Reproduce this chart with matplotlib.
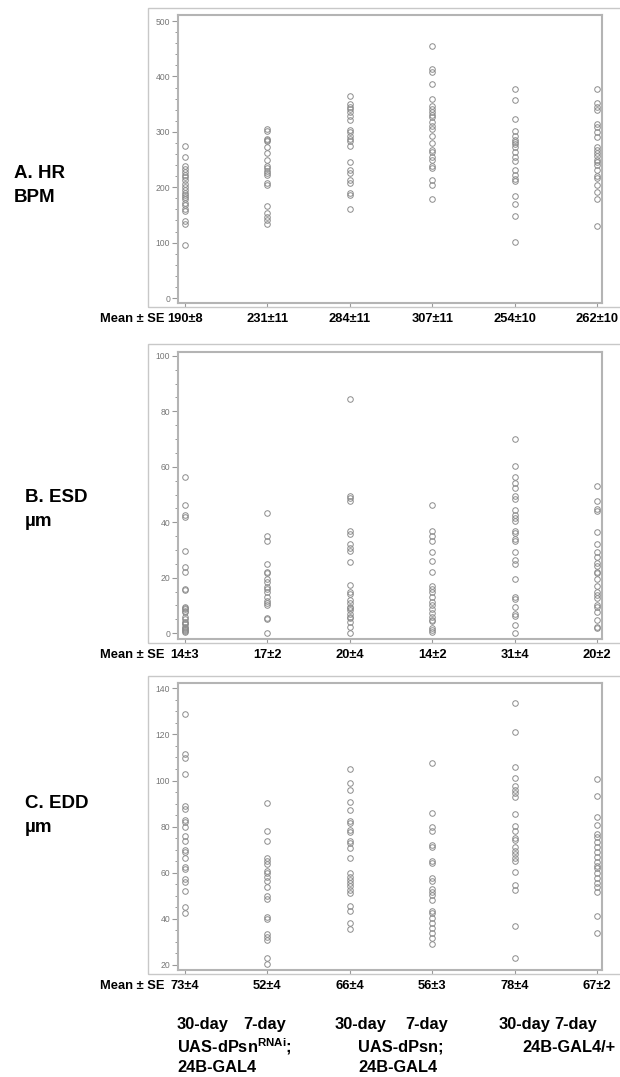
import numpy as np
import matplotlib.pyplot as plt
from matplotlib.patches import Rectangle
from matplotlib.ticker import MultipleLocator

plt.rcParams['font.family'] = ['Liberation Sans', 'DejaVu Sans']
plt.rcParams['mathtext.fontset'] = 'custom'
plt.rcParams['mathtext.rm'] = 'Liberation Sans'
plt.rcParams['mathtext.bf'] = 'Liberation Sans:bold'

# =============================================================================
# DATA
# =============================================================================
HR_MEANS = ["190±8", "231±11", "284±11", "307±11", "254±10", "262±10"]
HR = [
    [275, 254, 238, 233, 228, 222, 218, 213, 205, 200, 195, 190, 186, 182,
     178, 172, 168, 160, 157, 139, 134, 96],
    [306, 302, 288, 285, 283, 273, 262, 250, 238, 234, 230, 226, 222, 207,
     204, 166, 154, 146, 140, 133],
    [365, 350, 345, 341, 336, 329, 321, 303, 299, 293, 288, 283, 275, 246,
     232, 226, 213, 208, 189, 186, 160],
    [455, 413, 408, 387, 359, 346, 341, 336, 330, 326, 318, 310, 306, 293,
     280, 268, 264, 255, 249, 238, 235, 213, 204, 178],
    [378, 357, 324, 302, 292, 286, 282, 278, 273, 264, 255, 247, 231, 223,
     214, 211, 184, 170, 148, 101],
    [378, 352, 345, 340, 315, 308, 300, 291, 273, 267, 261, 256, 250, 245,
     240, 231, 220, 216, 204, 192, 178, 130],
]

ESD_MEANS = ["14±3", "17±2", "20±4", "14±2", "31±4", "20±2"]
ESD = [
    [56.5, 46.4, 42.5, 42, 29.8, 23.7, 22.2, 16, 15.4, 9.6, 9.2, 8.7, 8,
     7.5, 6, 5, 4.2, 3.8, 3.2, 2.4, 2, 1.4, 1, 0.8, 0.3],
    [43.5, 34.9, 33.3, 25, 22.2, 21.6, 19.5, 18.3, 16.8, 15.9, 14.7, 13.2,
     11.5, 10.8, 10, 5.6, 5, 0],
    [84.5, 49.5, 48.7, 47.7, 36.7, 35.7, 32.1, 30.7, 29.8, 25.6, 17.4, 15,
     14.2, 12, 11, 9.6, 9, 8.2, 7, 6, 5.5, 4.2, 2.4, 0],
    [46.2, 36.9, 34.9, 33.3, 29.4, 26.1, 21.9, 17.1, 16, 14.8, 13.2, 11.4,
     10, 8.8, 7.2, 5.8, 4.8, 4.5, 1.8, 1, 0.5],
    [70, 60.3, 56.5, 54.3, 52.3, 49.5, 48.4, 44.5, 42.7, 41.5, 40.3, 36.7,
     36.1, 34, 33.1, 29.4, 26.4, 24.9, 19.5, 13.2, 12.4, 9.4, 7, 6.3, 3, 0.2],
    [53.1, 47.8, 44.7, 44.2, 36.4, 32.1, 29.2, 27.4, 25.2, 24.3, 22.2, 21.6,
     19.5, 17.1, 15, 13.8, 12.6, 10.2, 9.3, 7.5, 4.8, 2.4, 1.7],
]

EDD_MEANS = ["73±4", "52±4", "66±4", "56±3", "78±4", "67±2"]
EDD = [
    [128.7, 111.4, 109.9, 102.7, 89.1, 87.7, 82.9, 82.2, 80, 76.1, 73.8,
     69.9, 68.9, 66.3, 62.4, 61.6, 57.2, 56.1, 52.2, 45, 42.7],
    [90.1, 78.1, 73.8, 66.3, 65.1, 63.8, 60.9, 59.8, 58.3, 56.4, 54, 49.9,
     48.5, 41, 40, 33.5, 32.3, 30.8, 23.2, 20.4],
    [105, 99.1, 95.9, 90.8, 87.2, 82.6, 81.4, 78.6, 77.8, 73.8, 72.8, 70.6,
     66.3, 59.8, 58, 56.9, 55.7, 54.3, 52.5, 51.1, 45.6, 43.6, 38.1, 35.6],
    [107.5, 85.8, 79.7, 78.1, 72, 71, 65.3, 64.1, 57.6, 56.4, 52.8, 51.5,
     50.4, 48.2, 43.6, 42.4, 40.2, 38.1, 36, 33.8, 31.6, 29],
    [133.5, 121.2, 106, 101, 97.8, 95.9, 94.5, 92.7, 85.5, 80.4, 78.3, 75.2,
     74.2, 71.3, 69.4, 68, 66.3, 65.1, 60.2, 54.7, 52.5, 36.9, 23.2],
    [100.5, 93.3, 84.3, 80.7, 76.8, 75.7, 73.5, 71.3, 69.2, 67, 64.8, 62.7,
     61.9, 59.8, 57.6, 55.7, 53.7, 51.5, 41.3, 33.8],
]

# =============================================================================
# LAYOUT (pixels of a 620x1077 canvas)
# =============================================================================
W, H = 620, 1077
PANELS = [
    dict(data=HR, means=HR_MEANS, ylim=(-9, 511), major=100, minor=20,
         top=15, bot=303, otop=8, obot=307, lx=14,
         label=("A. HR", "BPM"), ly=(173, 197)),
    dict(data=ESD, means=ESD_MEANS, ylim=(-2.1, 101.4), major=20, minor=5,
         top=352, bot=639, otop=344, obot=643, lx=25,
         label=("B. ESD", "µm"), ly=(497, 521)),
    dict(data=EDD, means=EDD_MEANS, ylim=(17.8, 142.3), major=20, minor=5,
         top=683, bot=970, otop=676, obot=974, lx=25,
         label=("C. EDD", "µm"), ly=(804, 828)),
]
AX_L, AX_R = 178, 602

fig = plt.figure(figsize=(W / 100, H / 100), dpi=100)


def px(x, y):
    return x / W, 1 - y / H


for p in PANELS:
    # light outer frame
    x0, y0 = px(148, p["obot"])
    fig.patches.append(Rectangle((x0, y0), (640 - 148) / W,
                                 (p["obot"] - p["otop"]) / H,
                                 transform=fig.transFigure, fill=False,
                                 ec="#c8c8c8", lw=1.0))

    ax = fig.add_axes([AX_L / W, 1 - p["bot"] / H, (AX_R - AX_L) / W,
                       (p["bot"] - p["top"]) / H])
    for i, vals in enumerate(p["data"]):
        ax.plot(np.full(len(vals), i), vals, "o", mfc="none", mec="#8c8c8c",
                ms=4.0, mew=0.7, ls="none")

    ax.set_xlim(-0.085, 5.06)
    ax.set_ylim(*p["ylim"])
    ax.yaxis.set_major_locator(MultipleLocator(p["major"]))
    ax.yaxis.set_minor_locator(MultipleLocator(p["minor"]))
    ax.set_xticks(range(6))
    ax.set_xticklabels(p["means"], fontsize=9.3, fontweight="bold")
    ax.tick_params(axis="x", length=3, width=0.8, color="#999999", pad=4.0)
    ax.tick_params(axis="y", which="major", length=4, width=0.8,
                   color="#999999", labelsize=6.2, labelcolor="#777777",
                   pad=1.5)
    ax.tick_params(axis="y", which="minor", length=2.2, width=0.7,
                   color="#999999")
    for s in ax.spines.values():
        s.set_color("#b4b4b4")
        s.set_linewidth(1.5)

    # "Mean ± SE" prefix, bottom-aligned with the first mean tick label
    fig.canvas.draw()
    ext = ax.get_xticklabels()[0].get_window_extent()
    fig.text(165 / W, ext.y0 / fig.bbox.height, "Mean ± SE", ha="right",
             va="bottom", fontsize=9.3, fontweight="bold")

    # panel label
    for txt, yy in zip(p["label"], p["ly"]):
        fx, fy = px(p["lx"], yy)
        fig.text(fx, fy, txt, ha="left", va="center", fontsize=13.5,
                 fontweight="bold")

# genotype labels under the bottom panel
GROUP_TEXT = [
    [(177, 1025, "30-day"), (243, 1025, "7-day"),
     (177, 1047, r"UAS-dPsn$^{\mathbf{RNAi}}$;"), (177, 1068, "24B-GAL4")],
    [(335, 1025, "30-day"), (405, 1025, "7-day"),
     (358, 1047, "UAS-dPsn;"), (358, 1068, "24B-GAL4")],
    [(499, 1025, "30-day"), (554, 1025, "7-day"),
     (522, 1047, "24B-GAL4/+")],
]
for grp in GROUP_TEXT:
    for x, y, txt in grp:
        fx, fy = px(x, y)
        fig.text(fx, fy, txt, ha="left", va="center", fontsize=11.8,
                 fontweight="bold")

fig.savefig("out.png", dpi=100)
